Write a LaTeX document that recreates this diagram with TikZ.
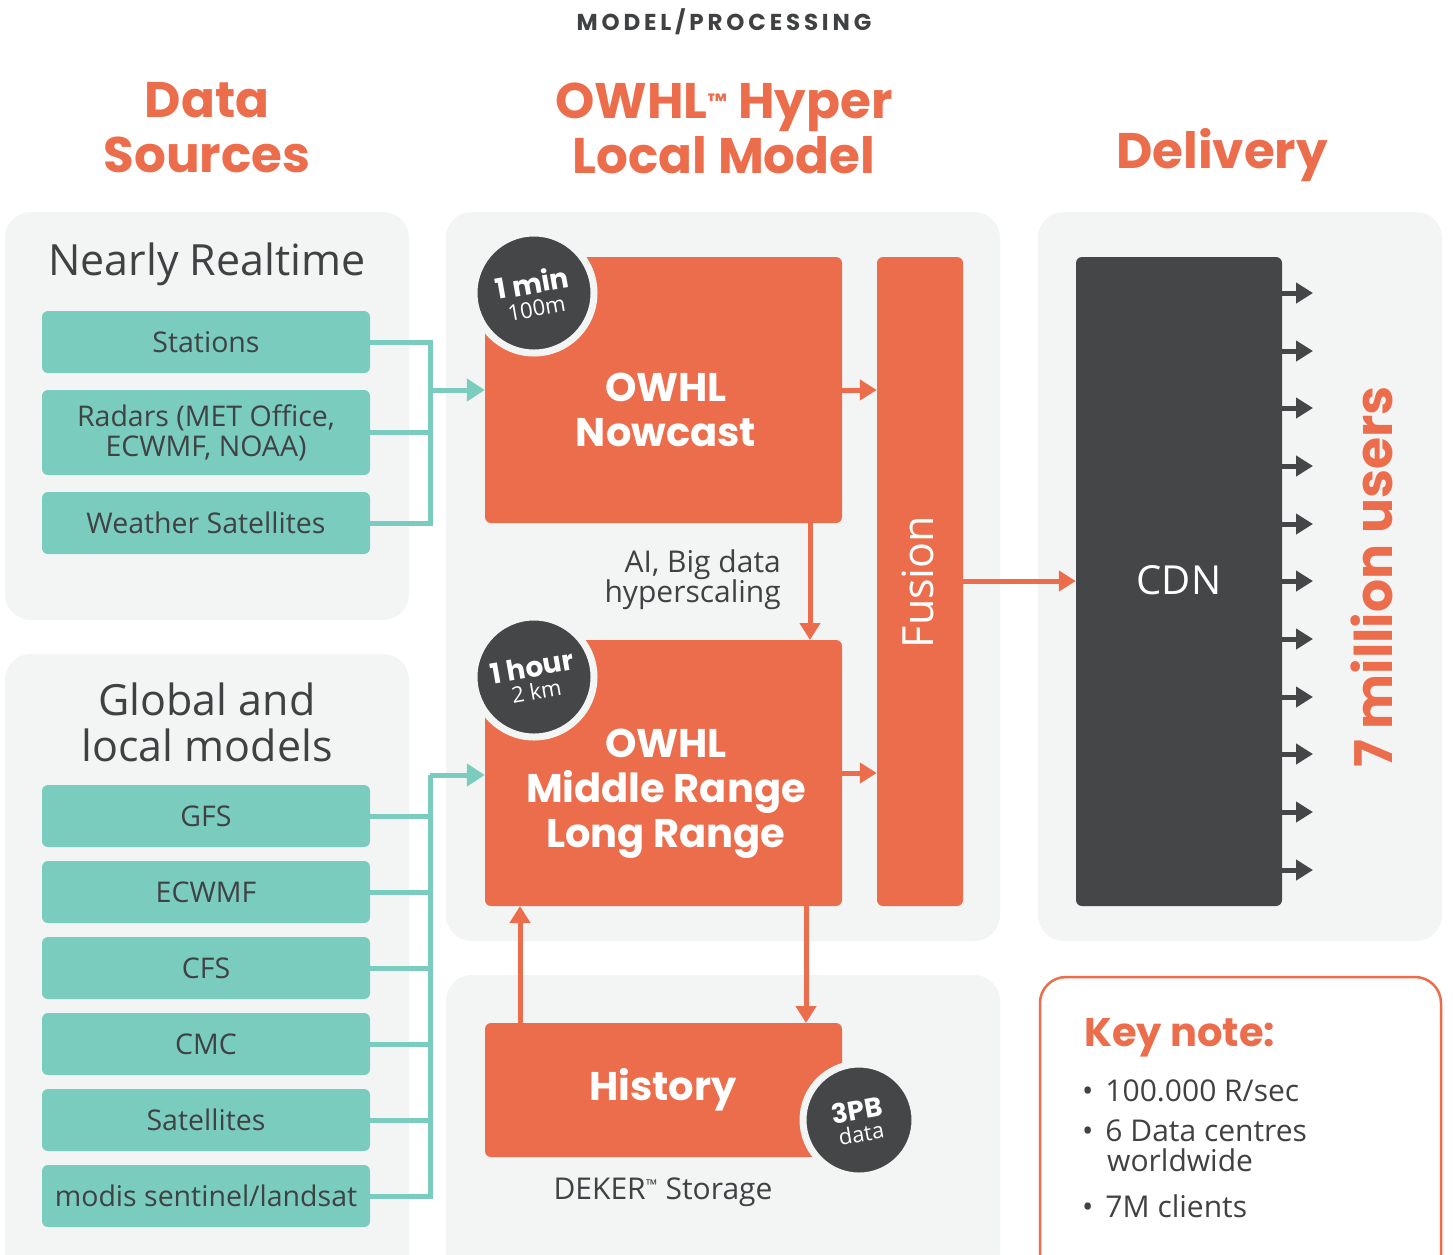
\documentclass[tikz,border=0pt]{standalone}
\usepackage{fontspec}
\setmainfont{Open Sans}
\newfontfamily\headfont{Poppins}
\usetikzlibrary{arrows.meta}
\definecolor{orng}{RGB}{236,109,76}
\definecolor{tealc}{RGB}{122,205,190}
\definecolor{panel}{RGB}{243,244,244}
\definecolor{darkc}{RGB}{69,70,72}
\definecolor{txt}{RGB}{64,65,67}
\begin{document}
\begin{tikzpicture}[x=1pt,y=-1pt,
  panelbox/.style={fill=panel, rounded corners=26pt},
  tealbox/.style={fill=tealc, rounded corners=6pt, minimum width=328pt, text=txt, font=\fontsize{28.5}{30}\selectfont, align=center, inner sep=0pt},
  orbox/.style={fill=orng, rounded corners=6pt, inner sep=0pt},
  ortext/.style={text=white, font=\headfont\bfseries\fontsize{40}{45}\selectfont, align=center, inner sep=0pt},
  badge/.style={circle, fill=darkc, draw=panel, line width=7pt, minimum size=120pt, inner sep=0pt},
  badgetxt/.style={rotate=10, text=white, align=center, inner sep=0pt, font=\fontsize{22}{22}\selectfont},
  heading/.style={text=orng, font=\headfont\bfseries\fontsize{50}{55}\selectfont, align=center},
  tline/.style={draw=tealc, line width=5pt},
  tarrow/.style={draw=tealc, line width=5pt, -{Triangle[length=18pt,width=22pt]}},
  oarrow/.style={draw=orng, line width=5pt, -{Triangle[length=17pt,width=20pt]}},
  darrow/.style={draw=darkc, line width=5pt, -{Triangle[length=17pt,width=20pt]}},
  plain/.style={text=txt, inner sep=0pt}
]
\useasboundingbox (0,0) rectangle (1453,1254);
\clip (0,0) rectangle (1453,1254);
\fill[white] (0,0) rectangle (1453,1254);

% title
\node[plain, font=\headfont\bfseries\fontsize{23}{26}\selectfont] (title) at (724,22) {M\,O\,D\,E\,L\,/\,P\,R\,O\,C\,E\,S\,S\,I\,N\,G};

% headings
\node[heading] (h1) at (207,128) {Data\\Sources};
\node[heading] (h2) at (724,128) {OWHL\textsuperscript{\fontsize{22}{22}\selectfont ™} Hyper\\Local Model};
\node[heading] (h3) at (1222,155) {Delivery};

% panels
\path[panelbox] (5,212) rectangle (409,620);
\path[panelbox] (5,654) rectangle (409,1290);
\path[panelbox] (446,212) rectangle (1000,941);
\path[panelbox] (446,975) rectangle (1000,1290);
\path[panelbox] (1038,212) rectangle (1442,941);
\draw[orng, line width=2.5pt, rounded corners=26pt, fill=white] (1040,977) rectangle (1441,1290);

% left panel titles
\node[plain, font=\fontsize{43}{46}\selectfont] (nrt) at (207,264) {Nearly Realtime};
\node[plain, font=\fontsize{43}{46}\selectfont, align=center] (glm) at (207,722) {Global and\\local models};

% teal boxes
\node[tealbox, minimum height=62pt] (st) at (206,342) {Stations};
\node[tealbox, minimum height=85pt] (ra) at (206,432.5) {Radars (MET Office,\\ECWMF, NOAA)};
\node[tealbox, minimum height=62pt] (ws) at (206,523) {Weather Satellites};
\node[tealbox, minimum height=62pt] (gfs) at (206,816) {GFS};
\node[tealbox, minimum height=62pt] (ec) at (206,892) {ECWMF};
\node[tealbox, minimum height=62pt] (cfs) at (206,968) {CFS};
\node[tealbox, minimum height=62pt] (cmc) at (206,1044) {CMC};
\node[tealbox, minimum height=62pt] (sat) at (206,1120) {Satellites};
\node[tealbox, minimum height=62pt] (mod) at (206,1196) {modis sentinel/landsat};

% orange boxes
\node[orbox, minimum width=357pt, minimum height=266pt] (now) at (663.5,390) {};
\node[ortext] (nowt) at (666,410) {OWHL\\Nowcast};
\node[orbox, minimum width=357pt, minimum height=266pt] (mid) at (663.5,773) {};
\node[ortext] (midt) at (666,794) {OWHL\\Middle Range\\Long Range};
\node[orbox, minimum width=86pt, minimum height=649pt] (fus) at (920,581.5) {};
\node[text=white, rotate=90, font=\fontsize{43}{44}\selectfont, inner sep=0pt] (fust) at (918,582) {Fusion};
\node[orbox, minimum width=357pt, minimum height=134pt] (his) at (663.5,1090) {};
\node[ortext] (hist) at (663,1090) {History};
\node[plain, font=\fontsize{30}{30}\selectfont] (dek) at (663,1192) {DEKER\textsuperscript{\fontsize{15}{15}\selectfont ™} Storage};
\node[plain, font=\fontsize{30}{30}\selectfont, align=right, anchor=east] (ai) at (781,580) {AI, Big data\\hyperscaling};

% CDN
\node[fill=darkc, rounded corners=6pt, minimum width=206pt, minimum height=649pt, inner sep=0pt] (cdn) at (1179,581.5) {};
\node[text=white, font=\fontsize{40}{44}\selectfont, inner sep=0pt] (cdnt) at (1179,580) {CDN};
\node[text=orng, rotate=90, font=\headfont\bfseries\fontsize{52}{56}\selectfont, inner sep=0pt] (users) at (1372,577) {7 million users};

% badges
\node[badge] (b1) at (534,293) {};
\node[badgetxt] (b1t) at (534,294) {{\headfont\bfseries\fontsize{28}{24}\selectfont 1 min}\\[1pt]{\fontsize{22}{22}\selectfont 100m}};
\node[badge] (b2) at (534,677) {};
\node[badgetxt] (b2t) at (534,678) {{\headfont\bfseries\fontsize{28}{24}\selectfont 1 hour}\\[1pt]{\fontsize{22}{22}\selectfont 2 km}};
\node[badge, minimum size=112pt] (b3) at (859,1120) {};
\node[badgetxt] (b3t) at (859,1121) {{\headfont\bfseries\fontsize{27}{24}\selectfont 3PB}\\[0pt]{\fontsize{22}{22}\selectfont data}};

% key note
\node[text=orng, font=\headfont\bfseries\fontsize{40}{40}\selectfont, anchor=west, inner sep=0pt] (kn) at (1084,1038) {Key note:};
\node[plain, font=\fontsize{30}{30}\selectfont, anchor=west] (k1) at (1082,1091) {\textbullet\hspace{12pt}100.000 R/sec};
\node[plain, font=\fontsize{30}{30}\selectfont, anchor=north west, align=left] (k2) at (1082,1120) {\textbullet\hspace{12pt}6 Data centres\\\hspace{25pt}worldwide};
\node[plain, font=\fontsize{30}{30}\selectfont, anchor=west] (k3) at (1082,1206) {\textbullet\hspace{12pt}7M clients};

% teal connectors top
\coordinate (bus1) at (430,390);
\draw[tline] (st.east) -| (430,345) -- (430,523) -- (ws.east);
\draw[tline] (ra.east) -- (430,432.5);
\draw[tarrow] (bus1) -- (now.west |- bus1);
% teal connectors bottom
\coordinate (bus2) at (430,775);
\draw[tline] (mod.east) -| (430,775);
\foreach \n in {gfs,ec,cfs,cmc,sat} \draw[tline] (\n.east) -- (430,0 |- \n.east);
\draw[tarrow] (bus2) -- (mid.west |- bus2);

% orange arrows
\draw[oarrow] (now.east |- 0,390) -- (fus.west |- 0,390);
\draw[oarrow] (mid.east |- 0,773) -- (fus.west |- 0,773);
\draw[oarrow] (810,523) -- (810,640);
\draw[oarrow] (806,906) -- (806,1023);
\draw[oarrow] (520,1023) -- (520,906);
\draw[oarrow] (fus.east |- 0,581) -- (cdn.west |- 0,581);

% CDN output arrows
\foreach \yy [count=\i] in {293,351,408,466,524,581,639,697,754,812,870} {
  \coordinate (o\i) at (1313,\yy);
  \draw[darrow] (cdn.east |- o\i) -- (o\i);
}
\end{tikzpicture}
\end{document}
